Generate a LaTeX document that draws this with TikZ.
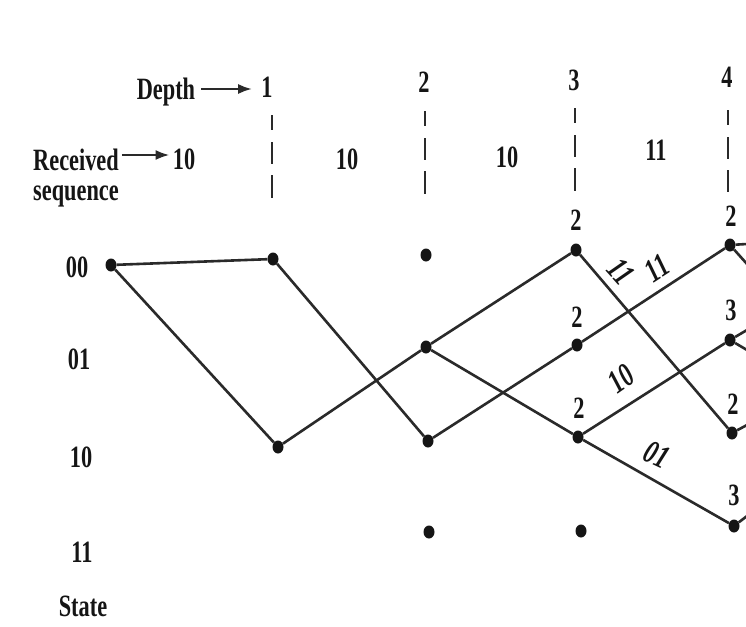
\documentclass[tikz,border=0pt]{standalone}
\usepackage{fontspec}
\setmainfont{Liberation Serif}
\usetikzlibrary{arrows.meta,shapes.geometric}
\definecolor{ink}{HTML}{151515}
\definecolor{lin}{HTML}{2A2A2A}
\newcommand{\nt}[1]{\scalebox{0.72}[1]{#1}}
\begin{document}
\begin{tikzpicture}[x=1pt,y=-1pt,
  txt/.style={font=\fontsize{31}{36}\selectfont\bfseries, text=ink, inner sep=3pt},
  elbl/.style={font=\fontsize{33}{36}\selectfont\bfseries\itshape, text=ink, inner sep=0pt},
  dot/.style={ellipse, fill=ink, inner sep=0pt, minimum width=11pt, minimum height=13pt},
  edge/.style={draw=lin, line width=2.6pt},
  depthline/.style={draw=lin, line width=2.4pt, dash pattern=on 15pt off 12pt on 22pt off 11pt on 23pt off 40pt},
  arr/.style={draw=lin, line width=2.6pt, -{Latex[length=14pt,width=10pt]}}]
\useasboundingbox (0,0) rectangle (746,626);
\fill[white] (0,0) rectangle (746,626);

% header texts
\node[txt, anchor=base] (depth) at (166,99) {\nt{Depth}};
\node[txt] (n1) at (267,87) {\nt{1}};
\node[txt] (n2) at (424,82) {\nt{2}};
\node[txt] (n3) at (574,80) {\nt{3}};
\node[txt] (n4) at (727,77) {\nt{4}};
\draw[arr, shorten >=6pt, shorten <=3pt] (depth.east |- 0,89) -- (n1.west |- 0,89);

\node[txt, anchor=base] (recv) at (76,170) {\nt{Received}};
\node[txt, anchor=base] (seq) at (76,200) {\nt{sequence}};
\node[txt] (r1) at (184,159) {\nt{10}};
\node[txt] (r2) at (347,159) {\nt{10}};
\node[txt] (r3) at (507,157) {\nt{10}};
\node[txt] (r4) at (656,150) {\nt{11}};
\draw[arr] (recv.east |- 0,155) -- (r1.west |- 0,155);

% dashed depth markers
\coordinate (v1t) at (272,115); \coordinate (v1b) at (272,205);
\coordinate (v2t) at (425,111); \coordinate (v2b) at (425,201);
\coordinate (v3t) at (575,108); \coordinate (v3b) at (575,198);
\coordinate (v4t) at (728,110); \coordinate (v4b) at (728,192);
\draw[depthline] (v1t) -- (v1b);
\draw[depthline] (v2t) -- (v2b);
\draw[depthline] (v3t) -- (v3b);
\draw[depthline] (v4t) -- (v4b);

% state labels
\node[txt] (s00) at (77,267) {\nt{00}};
\node[txt] (s01) at (79,359) {\nt{01}};
\node[txt] (s10) at (81,457) {\nt{10}};
\node[txt] (s11) at (82,552) {\nt{11}};
\node[txt, anchor=base] (state) at (83,616) {\nt{State}};

% trellis nodes
\node[dot] (a0) at (111,265) {};
\node[dot] (b00) at (273,259) {};
\node[dot] (b10) at (278,447) {};
\node[dot] (c00) at (426,255) {};
\node[dot] (c01) at (426,347) {};
\node[dot] (c10) at (428,441) {};
\node[dot] (c11) at (429,532) {};
\node[dot] (d00) at (576,250) {};
\node[dot] (d01) at (577,345) {};
\node[dot] (d10) at (578,437) {};
\node[dot] (d11) at (581,531) {};
\node[dot] (e00) at (730,245) {};
\node[dot] (e01) at (730,340) {};
\node[dot] (e10) at (732,433) {};
\node[dot] (e11) at (734,526) {};

% branches
\draw[edge] (a0) -- (b00);
\draw[edge] (a0) -- (b10);
\draw[edge] (b00) -- (c10);
\draw[edge] (b10) -- (c01);
\draw[edge] (c01) -- (d00);
\draw[edge] (c01) -- (d10);
\draw[edge] (c10) -- (d01);
\draw[edge] (d00) -- (e10);
\draw[edge] (d01) -- (e00);
\draw[edge] (d10) -- (e01);
\draw[edge] (d10) -- (e11);

% stubs leaving the picture
\coordinate (x00a) at (747,244); \coordinate (x00b) at (747,264);
\coordinate (x01a) at (747,330); \coordinate (x01b) at (747,350);
\coordinate (x10a) at (747,425);
\coordinate (x11a) at (747,516);
\draw[edge] (e00) -- (x00a);
\draw[edge] (e00) -- (x00b);
\draw[edge] (e01) -- (x01a);
\draw[edge] (e01) -- (x01b);
\draw[edge] (e10) -- (x10a);
\draw[edge] (e11) -- (x11a);

% branch labels
\node[elbl, rotate=-48] (l1) at (621,272) {\nt{11}};
\node[elbl, rotate=33] (l2) at (657,268) {\nt{11}};
\node[elbl, rotate=35] (l3) at (621,379) {\nt{10}};
\node[elbl, rotate=-25] (l4) at (657,455) {\nt{01}};

% path metrics
\node[txt] (m1) at (576,220) {\nt{2}};
\node[txt] (m2) at (577,317) {\nt{2}};
\node[txt] (m3) at (579,408) {\nt{2}};
\node[txt] (m4) at (731,216) {\nt{2}};
\node[txt] (m5) at (731,310) {\nt{3}};
\node[txt] (m6) at (733,404) {\nt{2}};
\node[txt] (m7) at (734,495) {\nt{3}};
\end{tikzpicture}
\end{document}
